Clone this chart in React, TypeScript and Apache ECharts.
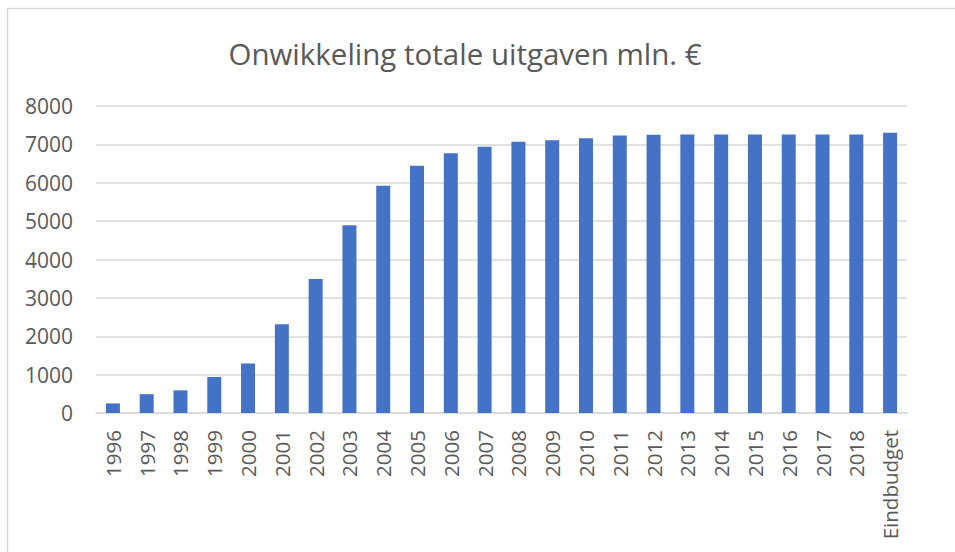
import React, { useEffect, useRef } from "react";
import * as echarts from "echarts";

const categories = [
  "1996", "1997", "1998", "1999", "2000", "2001", "2002", "2003", "2004", "2005",
  "2006", "2007", "2008", "2009", "2010", "2011", "2012", "2013", "2014", "2015",
  "2016", "2017", "2018", "Eindbudget",
];
const uitgaven = [
  250, 490, 590, 940, 1290, 2310, 3490, 4890, 5920, 6440,
  6770, 6940, 7070, 7110, 7160, 7230, 7250, 7255, 7255, 7255,
  7255, 7255, 7255, 7300,
];
const titleText = "Onwikkeling totale uitgaven mln. €";

export default function App() {
  const ref = useRef<HTMLDivElement>(null);
  useEffect(() => {
    if (!ref.current) return;
    const chart = echarts.init(ref.current, null, { renderer: "svg" });
    const font = "'Open Sans', sans-serif";
    chart.setOption({
      animation: false,
      backgroundColor: "#ffffff",
      graphic: [
        {
          type: "rect",
          shape: { x: 7.5, y: 8.5, width: 980, height: 580 },
          style: { fill: "none", stroke: "#d9d9d9", lineWidth: 1.5 },
          silent: true,
        },
        {
          type: "text",
          x: 465,
          y: 53,
          style: {
            text: titleText,
            fill: "#595959",
            fontSize: 29.5,
            fontFamily: font,
            textAlign: "center",
            textVerticalAlign: "middle",
          },
        },
      ],
      grid: { left: 96, right: 48, top: 106, bottom: 139, containLabel: false },
      xAxis: {
        type: "category",
        data: categories,
        axisLine: { show: true, lineStyle: { color: "#d9d9d9", width: 1.5 } },
        axisTick: { show: false },
        axisLabel: {
          rotate: 90,
          interval: 0,
          margin: 17,
          color: "#595959",
          fontSize: 20.5,
          fontFamily: font,
        },
      },
      yAxis: {
        type: "value",
        min: 0,
        max: 8000,
        interval: 1000,
        axisLine: { show: false },
        axisTick: { show: false },
        axisLabel: {
          margin: 23,
          color: "#595959",
          fontSize: 21,
          fontFamily: font,
          formatter: (v: number) => String(v),
        },
        splitLine: { lineStyle: { color: "#d9d9d9", width: 1.5 } },
      },
      series: [
        {
          type: "bar",
          data: uitgaven,
          barWidth: 14,
          itemStyle: { color: "#4472c4" },
        },
      ],
    });
    return () => chart.dispose();
  }, []);
  return (
    <div
      ref={ref}
      style={{ position: "absolute", left: 0, top: 0, width: 955, height: 552 }}
    />
  );
}
